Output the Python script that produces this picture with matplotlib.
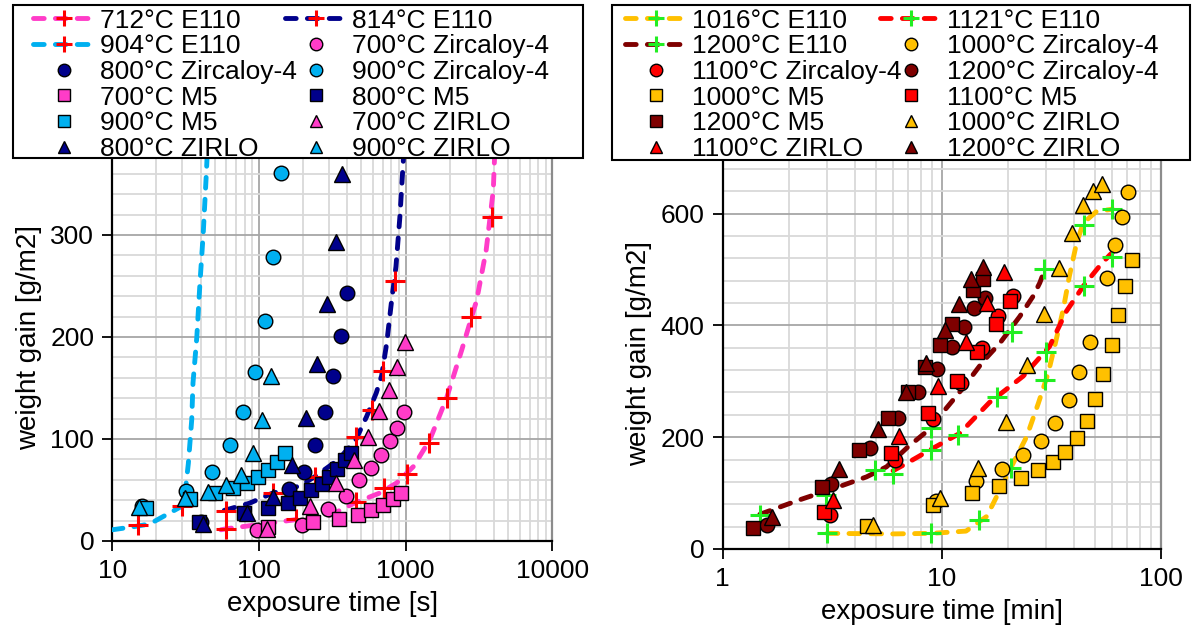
import matplotlib
matplotlib.use('Agg')
import matplotlib.pyplot as plt
from matplotlib.lines import Line2D
from matplotlib.patches import Rectangle
from matplotlib.ticker import MultipleLocator, LogLocator, NullFormatter, FixedLocator, FixedFormatter

plt.rcParams['font.family'] = ['Liberation Sans', 'DejaVu Sans']

# ---------------- left panel data (time in s, weight gain in g/m2) ----------------
t712_line = [55, 60, 180, 303, 460, 666, 870, 1130, 1460, 1900, 2410, 3050, 3540, 3960, 4100]
w712_line = [11, 12, 21, 25, 38, 47, 57, 73, 99, 140, 187, 236, 285, 344, 400]
t712_pts = [60, 180, 460, 711, 1016, 1443, 1923, 2773, 3855]
w712_pts = [12, 22, 38.5, 52, 66, 96, 140, 220, 318]

t814_line = [58, 86, 124, 190, 240, 350, 460, 542, 630, 686, 743, 803, 859, 914, 964, 985]
w814_line = [30, 37, 47, 54, 63, 80, 100, 122, 145, 162, 194, 236, 269, 318, 373, 400]
t814_pts = [60, 124, 240, 460, 590, 703, 845]
w814_pts = [29, 47, 63, 102, 128, 167, 255]

t904_line = [10, 14, 18, 29.7, 31.4, 33, 34.8, 35.5, 37.7, 39.6, 41.7, 43.9, 45]
w904_line = [11, 14, 16.7, 34, 48, 76, 119, 155, 200, 253, 302, 364, 400]
t904_pts = [15, 29.7]
w904_pts = [15.7, 34]

t700_zry = [97, 195, 296, 395, 481, 584, 684, 778, 878, 969]
w700_zry = [11, 16, 31, 44, 60, 72, 84, 98, 111, 126]
t800_zry = [40, 161, 202, 240, 281, 321, 360, 399]
w800_zry = [19, 51, 68, 94, 126, 162, 201, 243]
t900_zry = [15.9, 31.7, 47.5, 63, 78.3, 94.4, 110, 125, 141.6]
w900_zry = [34, 48.8, 67.6, 93.7, 126, 166, 215.6, 278, 361]

t700_m5 = [116, 234, 351, 474, 584, 701, 820, 935]
w700_m5 = [14, 19, 22, 25.5, 30, 35, 41, 47]
t800_m5 = [39.3, 79, 116, 158, 190, 228, 267, 301, 341, 385, 427]
w800_m5 = [19, 27, 32, 37, 42, 50, 56, 63, 71, 79, 86]
t900_m5 = [17.1, 33.9, 50, 66.8, 82.4, 98.9, 116, 132, 150]
w900_m5 = [32, 41, 47, 52, 56.5, 63, 69.6, 77.7, 86.6]

t700_zirlo = [113, 222, 334, 443, 554, 658, 770, 878, 996]
w700_zirlo = [12, 34, 57, 79, 102, 127, 148, 171, 195]
t800_zirlo = [41.8, 82.4, 124, 167, 209, 250, 292, 334, 371]
w800_zirlo = [17, 27, 43, 74.5, 121, 174, 232, 293, 360]
t900_zirlo = [15.2, 31.3, 45.1, 59.6, 75.4, 90.6, 105, 120]
w900_zirlo = [33, 42, 48, 55, 65, 86, 119, 162]

# ---------------- right panel data (time in min) ----------------
t1016_line = [3, 6, 9, 12.9, 16, 17.2, 20.4, 24.4, 27.6, 30.6, 32.7, 35.8, 38.2, 41.2, 44.2, 50.9, 58.4, 60]
w1016_line = [28, 27, 28, 32, 58, 82, 141, 201, 261, 315, 362, 428, 488, 547, 583, 604, 607, 608]
t1016_pts = [3, 8.93, 14.8, 20.8, 29.6, 44.7, 59.5]
w1016_pts = [28, 28, 52, 144, 303, 580, 608]

t1121_line = [6, 6.9, 9.1, 12.1, 16.5, 17.8, 23.5, 31, 37, 44.2, 52.7, 58.4, 60]
w1121_line = [140, 153, 180, 207, 262, 272, 309, 362, 425, 470, 507, 526, 530]
t1121_pts = [5.97, 8.93, 11.9, 17.8, 29.8, 44.7, 59.5]
w1121_pts = [134, 177, 204, 272, 353, 471, 523]

t1200_line = [1.48, 2.25, 3.43, 4.54, 5.6, 7.03, 8.53, 10.5, 12.5, 15.4, 18.4, 22.7, 26.1, 28, 29.4]
w1200_line = [62, 88, 112, 129, 147, 183, 210, 252, 288, 335, 368, 416, 452, 476, 498]
t1200_pts = [1.48, 2.98, 4.96, 8.93, 21, 29.4]
w1200_pts = [61, 97, 141, 216, 388, 500]

t1000_zry = [9.4, 14.3, 18.9, 23.5, 28.3, 33, 38, 42.4, 47.4, 56.9, 61.6, 66.1, 70.9]
w1000_zry = [86, 122, 143, 168, 194, 225, 266, 316, 371, 485, 543, 594, 638]
t1100_zry = [3.09, 6.1, 9.1, 12.3, 15.2, 18.1, 21.1]
w1100_zry = [61, 159, 232, 297, 359, 416, 452]
t1200_zry = [1.59, 3.11, 4.7, 6.32, 7.8, 9.5, 11.1, 12.6, 14, 15.7]
w1200_zry = [43, 116, 180, 235, 280, 322, 362, 397, 431, 449]

t1000_m5 = [4.57, 9.1, 13.7, 18.3, 22.9, 27.6, 32.1, 36.5, 41.2, 45.8, 50.1, 54.5, 59.5, 63.8, 68.5, 73.5]
w1000_m5 = [42, 79, 100, 113, 127, 141, 156, 174, 198, 229, 268, 313, 365, 419, 470, 517]
t1100_m5 = [2.91, 5.84, 8.7, 11.7, 14.5, 17.7, 20.4]
w1100_m5 = [66, 171, 244, 301, 353, 403, 443]
t1200_m5 = [1.38, 2.83, 4.2, 5.7, 7.03, 8.37, 9.85, 11.1, 13.9, 15.4]
w1200_m5 = [37, 110, 177, 235, 280, 325, 365, 403, 464, 482]

t1000_zirlo = [4.87, 9.8, 14.7, 19.6, 24.4, 29.3, 34.2, 39.1, 44.2, 48.8, 53.6]
w1000_zirlo = [43, 91, 144, 228, 329, 421, 502, 566, 616, 640, 652]
t1100_zirlo = [3.18, 6.4, 9.6, 12.9, 16, 19.2]
w1100_zirlo = [88, 202, 292, 371, 440, 496]
t1200_zirlo = [1.69, 3.4, 5.13, 6.86, 8.5, 10.3, 12, 13.6, 15.4]
w1200_zirlo = [58, 143, 214, 280, 333, 392, 439, 482, 505]

left_xticks = [10, 100, 1000, 10000]
left_xticklabels = ['10', '100', '1000', '10000']
left_yticks = [0, 100, 200, 300]
right_xticks = [1, 10, 100]
right_xticklabels = ['1', '10', '100']
right_yticks = [0, 200, 400, 600]

# ---------------- colours ----------------
MAG = '#FF3CC8'
NAVY = '#00008B'
LBLUE = '#00B0F0'
AMBER = '#FFC000'
RED = '#FF0000'
DRED = '#7F0000'
GREEN = '#22EE22'

W, H = 1197, 626
fig = plt.figure(figsize=(W / 100, H / 100), dpi=100)
axL = fig.add_axes([112.3 / W, 1 - 541 / H, 440 / W, 408 / H])
axR = fig.add_axes([722.5 / W, 1 - 549 / H, 438.5 / W, 391.4 / H])

DASH = (0, (2.2, 2.3))
LW = 3.5
MS = 10.5


def dline(ax, t, w, c):
    ax.plot(t, w, color=c, lw=LW, ls=DASH, dash_capstyle='round', zorder=3)


def plus(ax, t, w, c):
    ax.plot(t, w, ls='none', marker='+', ms=14, mew=2.2, color=c, zorder=4)


def mk(ax, t, w, m, c, ms=MS):
    ax.plot(t, w, ls='none', marker=m, ms=ms, mfc=c, mec='black', mew=1.0, zorder=5)


# left
dline(axL, t712_line, w712_line, MAG)
dline(axL, t814_line, w814_line, NAVY)
dline(axL, t904_line, w904_line, LBLUE)
plus(axL, t712_pts, w712_pts, RED)
plus(axL, t814_pts, w814_pts, RED)
plus(axL, t904_pts, w904_pts, RED)
mk(axL, t700_zry, w700_zry, 'o', MAG)
mk(axL, t800_zry, w800_zry, 'o', NAVY)
mk(axL, t900_zry, w900_zry, 'o', LBLUE)
mk(axL, t700_m5, w700_m5, 's', MAG)
mk(axL, t800_m5, w800_m5, 's', NAVY)
mk(axL, t900_m5, w900_m5, 's', LBLUE)
mk(axL, t700_zirlo, w700_zirlo, '^', MAG, 11)
mk(axL, t800_zirlo, w800_zirlo, '^', NAVY, 11)
mk(axL, t900_zirlo, w900_zirlo, '^', LBLUE, 11)

# right
dline(axR, t1016_line, w1016_line, AMBER)
dline(axR, t1121_line, w1121_line, RED)
dline(axR, t1200_line, w1200_line, DRED)
plus(axR, t1016_pts, w1016_pts, GREEN)
plus(axR, t1121_pts, w1121_pts, GREEN)
plus(axR, t1200_pts, w1200_pts, GREEN)
mk(axR, t1000_zry, w1000_zry, 'o', AMBER)
mk(axR, t1100_zry, w1100_zry, 'o', RED)
mk(axR, t1200_zry, w1200_zry, 'o', DRED)
mk(axR, t1000_m5, w1000_m5, 's', AMBER)
mk(axR, t1100_m5, w1100_m5, 's', RED)
mk(axR, t1200_m5, w1200_m5, 's', DRED)
mk(axR, t1000_zirlo, w1000_zirlo, '^', AMBER, 11)
mk(axR, t1100_zirlo, w1100_zirlo, '^', RED, 11)
mk(axR, t1200_zirlo, w1200_zirlo, '^', DRED, 11)


def style(ax, xlim, ylim, xt, xtl, yt, yminor, xlabel):
    ax.set_xscale('log')
    ax.set_xlim(*xlim)
    ax.set_ylim(*ylim)
    ax.xaxis.set_major_locator(FixedLocator(xt))
    ax.xaxis.set_major_formatter(FixedFormatter(xtl))
    ax.xaxis.set_minor_locator(LogLocator(base=10, subs=range(2, 10)))
    ax.xaxis.set_minor_formatter(NullFormatter())
    ax.set_yticks(yt)
    ax.yaxis.set_minor_locator(MultipleLocator(yminor))
    ax.grid(which='major', color='#A6A6A6', lw=1.3, zorder=0)
    ax.grid(which='minor', color='#D9D9D9', lw=1.3, zorder=0)
    ax.set_axisbelow(True)
    ax.tick_params(which='major', direction='out', length=7, width=1.3, labelsize=19, pad=6, colors='black')
    ax.tick_params(which='minor', length=0)
    for s in ['left', 'bottom']:
        ax.spines[s].set_color('black')
        ax.spines[s].set_linewidth(1.6)
    for s in ['right', 'top']:
        ax.spines[s].set_color('#8C8C8C')
        ax.spines[s].set_linewidth(1.6)
    ax.set_xlabel(xlabel, fontsize=20, labelpad=6)
    ax.set_ylabel('weight gain [g/m2]', fontsize=20, labelpad=6)


style(axL, (10, 10000), (0, 400), left_xticks, left_xticklabels, left_yticks, 20, 'exposure time [s]')
style(axR, (1, 100), (0, 700), right_xticks, right_xticklabels, right_yticks, 40, 'exposure time [min]')


# legends
def lh_line(c, pc):
    return Line2D([], [], color=c, lw=LW, ls=DASH, dash_capstyle='round', marker='+', ms=12,
                  mew=2.2, mec=pc)


def lh_mk(m, c, ms=9):
    return Line2D([], [], ls='none', marker=m, ms=ms, mfc=c, mec='black', mew=1.0)


left_items = [
    (lh_line(MAG, RED), '712°C E110'), (lh_line(NAVY, RED), '814°C E110'),
    (lh_line(LBLUE, RED), '904°C E110'), (lh_mk('o', MAG), '700°C Zircaloy-4'),
    (lh_mk('o', NAVY), '800°C Zircaloy-4'), (lh_mk('o', LBLUE), '900°C Zircaloy-4'),
    (lh_mk('s', MAG), '700°C M5'), (lh_mk('s', NAVY), '800°C M5'),
    (lh_mk('s', LBLUE), '900°C M5'), (lh_mk('^', MAG), '700°C ZIRLO'),
    (lh_mk('^', NAVY), '800°C ZIRLO'), (lh_mk('^', LBLUE), '900°C ZIRLO'),
]
right_items = [
    (lh_line(AMBER, GREEN), '1016°C E110'), (lh_line(RED, GREEN), '1121°C E110'),
    (lh_line(DRED, GREEN), '1200°C E110'), (lh_mk('o', AMBER), '1000°C Zircaloy-4'),
    (lh_mk('o', RED), '1100°C Zircaloy-4'), (lh_mk('o', DRED), '1200°C Zircaloy-4'),
    (lh_mk('s', AMBER), '1000°C M5'), (lh_mk('s', RED), '1100°C M5'),
    (lh_mk('s', DRED), '1200°C M5'), (lh_mk('^', AMBER), '1000°C ZIRLO'),
    (lh_mk('^', RED), '1100°C ZIRLO'), (lh_mk('^', DRED), '1200°C ZIRLO'),
]


def colmajor(items):
    order = items[0::2] + items[1::2]
    return [h for h, _ in order], [l for _, l in order]


for (x0, x1, y0, y1) in [(13, 583, 5, 158), (612, 1190, 5, 160)]:
    fig.add_artist(Rectangle((x0 / W, 1 - y1 / H), (x1 - x0) / W, (y1 - y0) / H,
                             transform=fig.transFigure, fc='white', ec='black', lw=1.5, zorder=4))

hL, lL = colmajor(left_items)
legL = fig.legend(hL, lL, loc='upper left', bbox_to_anchor=(33 / W, 1 - 8.5 / H), ncol=2,
                  fontsize=19, frameon=False, borderpad=0, borderaxespad=0, labelspacing=0.065,
                  handlelength=2.35, handletextpad=0.19, columnspacing=-0.45)
legL.set_zorder(6)
hR, lR = colmajor(right_items)
legR = fig.legend(hR, lR, loc='upper left', bbox_to_anchor=(625 / W, 1 - 8.5 / H), ncol=2,
                  fontsize=19, frameon=False, borderpad=0, borderaxespad=0, labelspacing=0.065,
                  handlelength=2.35, handletextpad=0.19, columnspacing=-0.81)
legR.set_zorder(6)

fig.savefig('out.png', dpi=100)
